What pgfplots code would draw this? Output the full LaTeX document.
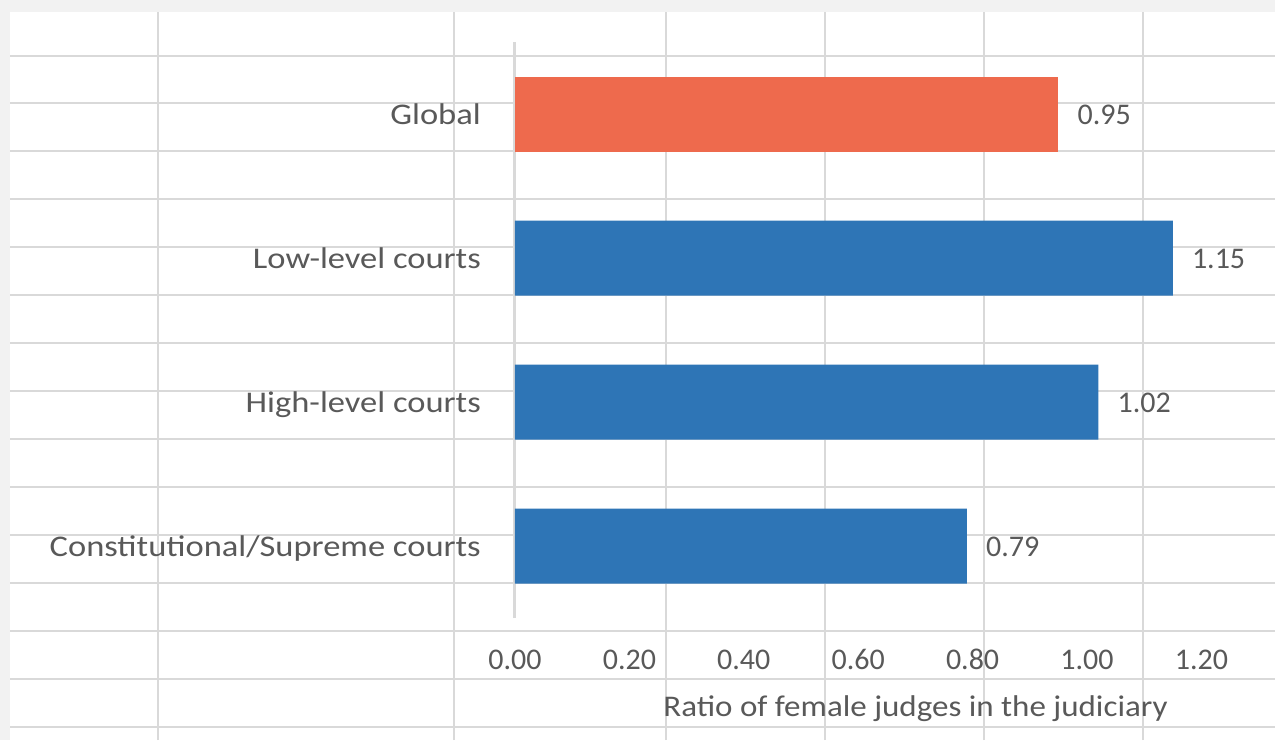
\documentclass[border=0pt]{standalone}
\usepackage{pgfplots}
\pgfplotsset{compat=1.18}
\usepackage{fontspec}
\setmainfont{Carlito}
\newfontfamily\catfont[FakeStretch=1.15]{Carlito}
\newfontfamily\labfont[FakeStretch=1.10]{Carlito}
\definecolor{txt}{HTML}{595959}
\definecolor{gridc}{HTML}{D9D9D9}
\definecolor{bgc}{HTML}{F2F2F2}
\definecolor{barblue}{HTML}{2E75B6}
\definecolor{barorange}{HTML}{EE6A4D}
\newcommand{\chartfont}{\fontsize{30}{36}\selectfont}
\begin{document}
\begin{tikzpicture}[x=1pt,y=1pt]
\useasboundingbox (0,0) rectangle (1275,740);
\fill[bgc] (0,0) rectangle (1275,740);
\fill[white] (10,0) rectangle (1275,728);
\foreach \yy in {56,103,151,199,247,295,343,391,439,487,535,583,631,679,727}
  \draw[gridc, line width=2pt] (10,{740-\yy}) -- (1275,{740-\yy});
\foreach \xx in {158,454,666,825,984,1143}
  \draw[gridc, line width=2pt] (\xx,0) -- (\xx,728);
\begin{axis}[
  at={(515pt,122pt)}, anchor=south west,
  scale only axis, width=743.6pt, height=576pt,
  xmin=0, xmax=1.3, ymin=-0.5, ymax=3.5,
  xbar, bar width=75pt,
  separate axis lines,
  axis x line*=bottom, axis y line*=left,
  x axis line style={draw=none},
  y axis line style={draw=gridc, line width=3pt, -},
  major tick length=0pt,
  xtick={0,0.2,0.4,0.6,0.8,1.0,1.2},
  ytick={0,1,2,3},
  yticklabels={Constitutional/Supreme courts, High-level courts, Low-level courts, Global},
  /pgf/number format/assume math mode=true,
  xticklabel={\pgfmathprintnumber[fixed,zerofill,precision=2,assume math mode=true]{\tick}},
  xticklabel style={font=\chartfont, text=txt, anchor=base, inner sep=0pt, yshift=-51pt},
  yticklabel style={font=\catfont\chartfont, text=txt, anchor=base east, inner sep=0pt, xshift=-34pt, yshift=-10pt},
  xlabel={Ratio of female judges in the judiciary},
  xlabel style={font=\labfont\chartfont, text=txt, at={(axis description cs:0.5386,0)}, anchor=base, inner sep=0pt, yshift=-98pt},
  nodes near coords={\pgfmathprintnumber[fixed,zerofill,precision=2,assume math mode=true]{\pgfplotspointmeta}},
  point meta=x,
  every node near coord/.append style={font=\chartfont, text=txt, anchor=base west, inner sep=0pt, xshift=19pt, yshift=-10pt},
  clip=false,
]
\addplot[fill=barblue, draw=none, bar shift=0pt] coordinates {(0.79,0) (1.02,1) (1.15,2)};
\addplot[fill=barorange, draw=none, bar shift=0pt] coordinates {(0.95,3)};
\end{axis}
\end{tikzpicture}
\end{document}
